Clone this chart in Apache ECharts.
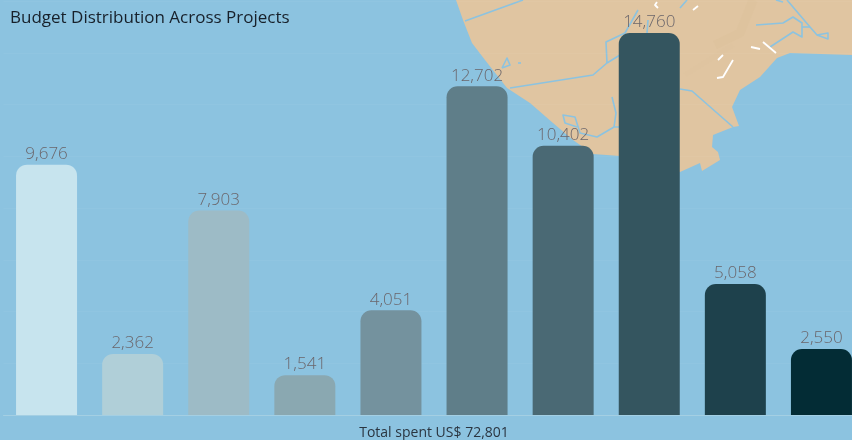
<!DOCTYPE html>
<html>
<head>
<meta charset="utf-8">
<style>
  html, body { margin: 0; padding: 0; background: #8cc3e0; }
  #chart { width: 852px; height: 440px; }
</style>
<script src="https://cdn.jsdelivr.net/npm/echarts@6/dist/echarts.min.js"></script>
</head>
<body>
<div id="chart"></div>
<script>
// bars (project names are not shown in the picture)
const projects = ['P1', 'P2', 'P3', 'P4', 'P5', 'P6', 'P7', 'P8', 'P9', 'P10']
const budget = [9676, 2362, 7903, 1541, 4051, 12702, 10402, 14760, 5058, 2550]
const barColors = ['#c7e4ee', '#b0cfd8', '#9dbbc6', '#8aa8b1', '#74929e', '#5f7e89', '#4a6974', '#34555f', '#1e414c', '#032c35']

// background map, in page pixels
const landShape = [[456, 0], [463, 20], [472, 43], [485, 60], [507, 88], [530, 103], [553, 123], [573, 140], [593, 154], [620, 156], [680, 172], [700, 163], [702, 171], [720, 160], [718, 152], [712, 147], [713, 135], [733, 127], [739, 126], [732, 107], [740, 90], [760, 77], [777, 58], [790, 53], [852, 55], [852, 0]]
const rivers = [
  [[465, 21], [523, 0]],
  [[510, 88], [593, 75], [607, 63], [620, 55]],
  [[607, 63], [606, 42], [625, 33], [638, 10]],
  [[647, 33], [648, 20]],
  [[680, 89], [692, 91], [733, 127]],
  [[612, 97], [616, 113], [614, 127], [620, 127]],
  [[614, 127], [597, 137], [580, 133], [575, 117], [563, 115], [565, 123], [577, 127]],
  [[502, 68], [507, 58], [510, 65], [502, 68]],
  [[518, 63], [521, 63]],
  [[770, 47], [793, 32], [802, 37], [802, 23], [793, 17], [783, 23], [756, 25]],
  [[787, 0], [810, 27], [817, 35], [828, 33], [828, 39], [817, 35]],
  [[802, 27], [810, 27]],
  [[680, 8], [687, 0]],
  [[776, 0], [783, 2]]
]
const roads = [
  [[657, 2], [655, 5], [658, 8]],
  [[693, 10], [698, 6]],
  [[718, 60], [723, 55]],
  [[733, 60], [723, 77], [717, 78]],
  [[751, 47], [760, 49]],
  [[763, 42], [776, 53]]
]
const hills = [[[753, 0], [740, 33], [715, 45]], [[733, 45], [685, 75]]]

function line(points, stroke, lineWidth) {
  return {
    type: 'polyline',
    shape: { points },
    style: { stroke, lineWidth, fill: null, lineJoin: 'round' }
  }
}

const chart = echarts.init(document.getElementById('chart'))
chart.setOption({
  backgroundColor: '#8cc3e0',
  animation: false,
  title: {
    text: 'Budget Distribution Across Projects',
    left: 5,
    top: 5,
    textStyle: {
      fontFamily: 'Open Sans',
      fontSize: 17,
      fontWeight: 'normal',
      color: '#17202a'
    }
  },
  graphic: {
    z: 0,
    elements: [
      { type: 'polygon', shape: { points: landShape }, style: { fill: '#e0c5a1' } },
      line(hills[0], '#dec39e', 9),
      line(hills[1], '#dfc4a0', 5),
      ...rivers.map(r => line(r, '#8cc3e0', 1.6)),
      ...roads.map(r => line(r, '#ffffff', 1.8))
    ]
  },
  grid: { left: 3.5, top: 1, width: 861, height: 414, outerBoundsMode: 'none' },
  xAxis: {
    type: 'category',
    data: projects,
    name: 'Total spent US$ 72,801',
    nameLocation: 'center',
    nameGap: 11,
    nameTextStyle: { fontFamily: 'Open Sans', fontSize: 14, color: '#2a3540' },
    axisLine: { lineStyle: { color: '#a4cfe3', width: 1 } },
    axisTick: { show: false },
    axisLabel: { show: false }
  },
  yAxis: {
    type: 'value',
    min: 0,
    max: 16000,
    interval: 2000,
    axisLine: { show: false },
    axisTick: { show: false },
    axisLabel: { show: false },
    splitLine: { lineStyle: { color: 'rgba(255,255,255,0.04)' } }
  },
  series: [
    {
      type: 'bar',
      barWidth: 61,
      data: budget.map((v, i) => ({ value: v, itemStyle: { color: barColors[i] } })),
      itemStyle: { borderRadius: [11, 11, 0, 0] },
      label: {
        show: true,
        position: 'top',
        distance: 2,
        fontFamily: 'Open Sans',
        fontSize: 17,
        fontWeight: 300,
        color: '#6b666b',
        formatter: p => p.value.toLocaleString('en-US')
      }
    }
  ]
})
</script>
</body>
</html>
